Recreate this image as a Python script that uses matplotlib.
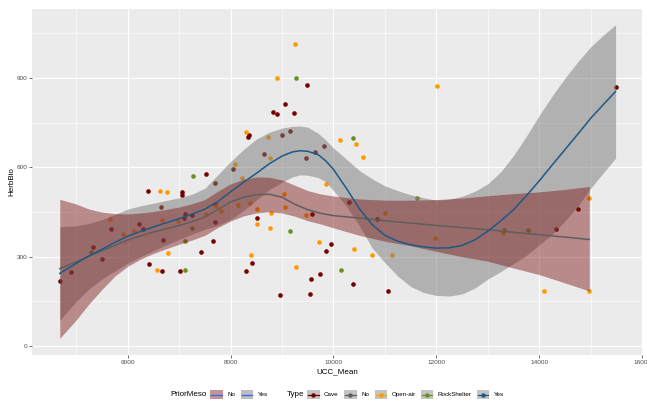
import matplotlib.pyplot as plt
from matplotlib.patches import Rectangle
from matplotlib.lines import Line2D

plt.rcParams['font.family'] = ['Liberation Sans', 'DejaVu Sans']

W, H = 647, 400

# points, one list pair per Type
cave_x = [4685, 4899, 5332, 5507, 5670, 6225, 6291, 6388, 6417, 6650, 6680, 6660, 7010, 7060,
          7060, 7090, 7113, 7254, 7429, 7530, 7695, 7695, 7700, 7663, 8051, 8345, 8352, 8297,
          8420, 8511, 8653, 8822, 8905, 8958, 9002, 9061, 9149, 9224, 9472, 9488, 9573, 9560,
          9535, 9648, 9744, 9809, 9848, 9942, 10307, 10378, 10844, 11052, 14324, 14758, 15483]
cave_y = [219, 249, 332, 292, 392, 411, 392, 522, 274, 468, 357, 253, 253, 517,
          508, 431, 442, 440, 315, 577, 546, 416, 478, 353, 594, 703, 708, 251,
          280, 431, 646, 787, 780, 173, 708, 812, 721, 783, 631, 878, 445, 226,
          176, 653, 242, 673, 318, 342, 484, 208, 426, 185, 392, 460, 871]
open_x = [5653, 5903, 6125, 6560, 6633, 6669, 6769, 6788, 6983, 7530, 7721, 7812, 8078, 8145,
          8226, 8300, 8394, 8381, 8505, 8505, 8720, 8769, 8793, 8773, 8899, 9032, 9064, 9243,
          9276, 9460, 9709, 9854, 10117, 10392, 10428, 10583, 10758, 11003, 11139, 11982,
          12004, 13294, 14091, 14972, 14972]
open_y = [427, 378, 387, 255, 522, 423, 516, 314, 419, 444, 469, 455, 612, 473,
          563, 720, 307, 479, 460, 409, 703, 633, 446, 395, 901, 510, 466, 1014,
          266, 439, 350, 543, 692, 326, 680, 634, 305, 446, 307, 364,
          874, 379, 185, 496, 185]
rock_x = [5287, 7113, 7116, 7246, 7265, 9146, 9274, 10137, 10375, 11618, 13314, 13780]
rock_y = [317, 353, 255, 396, 572, 387, 901, 254, 699, 496, 391, 390]

# smooth fits (PriorMeso = No / Yes)
no_x = [4680, 5000, 5250, 5500, 5750, 6000, 6250, 6500, 6750, 7000, 7250, 7500, 7750, 8000,
        8250, 8500, 8750, 9000, 9250, 9500, 9750, 10000, 10500, 11000, 11500, 12000, 12500,
        13000, 13500, 14000, 14500, 14972]
no_fit = [260, 283, 302, 320, 338, 356, 370, 383, 394, 405, 418, 433, 458, 484,
          500, 508, 510, 500, 476, 458, 446, 438, 430, 421, 413, 405, 398,
          391, 382, 374, 366, 358]
no_hi = [493, 477, 460, 450, 445, 444, 447, 452, 459, 467, 478, 492, 520, 545,
         560, 568, 567, 558, 540, 522, 511, 504, 494, 490, 490, 492, 497,
         505, 512, 518, 526, 536]
no_lo = [26, 88, 142, 190, 235, 268, 292, 311, 327, 342, 356, 372, 398, 420,
         437, 447, 451, 447, 436, 421, 410, 397, 372, 352, 337, 318, 300,
         285, 262, 240, 212, 185]

yes_x = [4680, 5000, 5250, 5500, 5750, 6000, 6250, 6500, 6750, 7000, 7250, 7500, 7750, 8000,
         8250, 8500, 8750, 9000, 9200, 9350, 9500, 9700, 9850, 10000, 10250, 10500, 10750,
         11000, 11250, 11500, 11750, 12000, 12250, 12500, 12750, 13000, 13250, 13500, 13750,
         14000, 14250, 14500, 14750, 15000, 15250, 15483]
yes_fit = [244, 278, 303, 325, 348, 369, 385, 400, 414, 428, 443, 460, 485, 518,
           550, 580, 612, 638, 652, 656, 654, 643, 622, 593, 530, 462, 408,
           372, 352, 340, 333, 329, 330, 338, 357, 386, 420, 458, 505,
           555, 608, 660, 712, 765, 812, 855]
yes_hi = [401, 404, 412, 425, 442, 460, 471, 480, 489, 498, 510, 530, 575, 620,
          660, 695, 718, 732, 738, 739, 735, 715, 692, 665, 628, 590, 562,
          538, 522, 508, 498, 490, 493, 503, 520, 545, 585, 640, 705,
          775, 840, 900, 955, 1005, 1045, 1079]
yes_lo = [87, 150, 192, 225, 252, 278, 300, 320, 340, 358, 376, 392, 405, 425,
          455, 490, 525, 550, 568, 575, 574, 566, 552, 522, 470, 405, 330,
          280, 235, 200, 180, 170, 168, 175, 195, 225, 250, 277, 305,
          340, 375, 420, 470, 530, 583, 631]

type_labels = ['Cave', 'No', 'Open-air', 'RockShelter', 'Yes']
type_colors = ['#750000', '#5f5f5f', '#ff9900', '#6b8e23', '#1c5a85']
prior_labels = ['No', 'Yes']
prior_keys = ['#c49393', '#bdbdbd']

fig = plt.figure(figsize=(6.47, 4.0), dpi=100)
ax = fig.add_axes([32 / W, 1 - 355 / H, (643 - 32) / W, (355 - 9) / H])
ax.set_facecolor('#ebebeb')
for s in ax.spines.values():
    s.set_visible(False)
ax.set_xlim(4140, 16016)
ax.set_ylim(-30, 1132)
ax.set_xticks(range(6000, 16001, 2000))
ax.set_xticks(range(5000, 16000, 2000), minor=True)
ax.set_yticks([0, 300, 600, 900])
ax.set_yticks([150, 450, 750, 1050], minor=True)
ax.grid(which='major', color='white', lw=0.8)
ax.grid(which='minor', color='white', lw=0.4)
ax.set_axisbelow(True)
ax.tick_params(which='major', length=2, width=0.5, color='#333333', labelsize=4.6,
               labelcolor='#4d4d4d', pad=1.5)
ax.tick_params(which='minor', length=0)

ax.scatter(cave_x, cave_y, s=11, lw=0, color=type_colors[0], zorder=2)
ax.scatter(open_x, open_y, s=11, lw=0, color=type_colors[2], zorder=2)
ax.scatter(rock_x, rock_y, s=11, lw=0, color=type_colors[3], zorder=2)

ax.fill_between(yes_x, yes_lo, yes_hi, color='#797979', alpha=0.5, lw=0, zorder=3)
ax.fill_between(no_x, no_lo, no_hi, color='#7d1515', alpha=0.45, lw=0, zorder=4)
ax.plot(no_x, no_fit, color=type_colors[1], lw=1.1, zorder=5)
ax.plot(yes_x, yes_fit, color=type_colors[4], lw=1.1, zorder=6)

fig.text(337.5 / W, 1 - 371.5 / H, 'UCC_Mean', fontsize=5.8, ha='center', va='center')
fig.text(12 / W, 1 - 182 / H, 'HerbBio', fontsize=5.8, rotation=90, ha='center', va='center')

# legend along the bottom
fig.canvas.draw()
rend = fig.canvas.get_renderer()
ly = 394.5
kw, kh = 12.3, 9.5


def put(s, x, size):
    t = fig.text(x / W, 1 - ly / H, s, fontsize=size, ha='left', va='center')
    return x + t.get_window_extent(rend).width


def key(x, bg, col, point):
    fig.add_artist(Rectangle((x / W, 1 - (ly + kh / 2) / H), kw / W, kh / H,
                             transform=fig.transFigure, color=bg, lw=0))
    fig.add_artist(Line2D([(x + 1) / W, (x + kw - 1) / W], [1 - ly / H, 1 - ly / H],
                          transform=fig.transFigure, color=col, lw=0.9))
    if point:
        fig.add_artist(Line2D([(x + kw / 2) / W], [1 - ly / H], transform=fig.transFigure,
                              color=col, marker='o', markersize=2.2, lw=0))
    return x + kw


x = put('PriorMeso', 170.7, 5.8) + 3.3
for lab, bg in zip(prior_labels, prior_keys):
    x = key(x, bg, '#3366ff', False) + 4.5
    x = put(lab, x, 4.5) + 5.5
x += 14
x = put('Type', x, 5.8) + 2.7
for lab, col in zip(type_labels, type_colors):
    x = key(x, '#c4c4c4', col, True) + 4.5
    x = put(lab, x, 4.5) + 5.5

fig.savefig('out.png', dpi=100)
